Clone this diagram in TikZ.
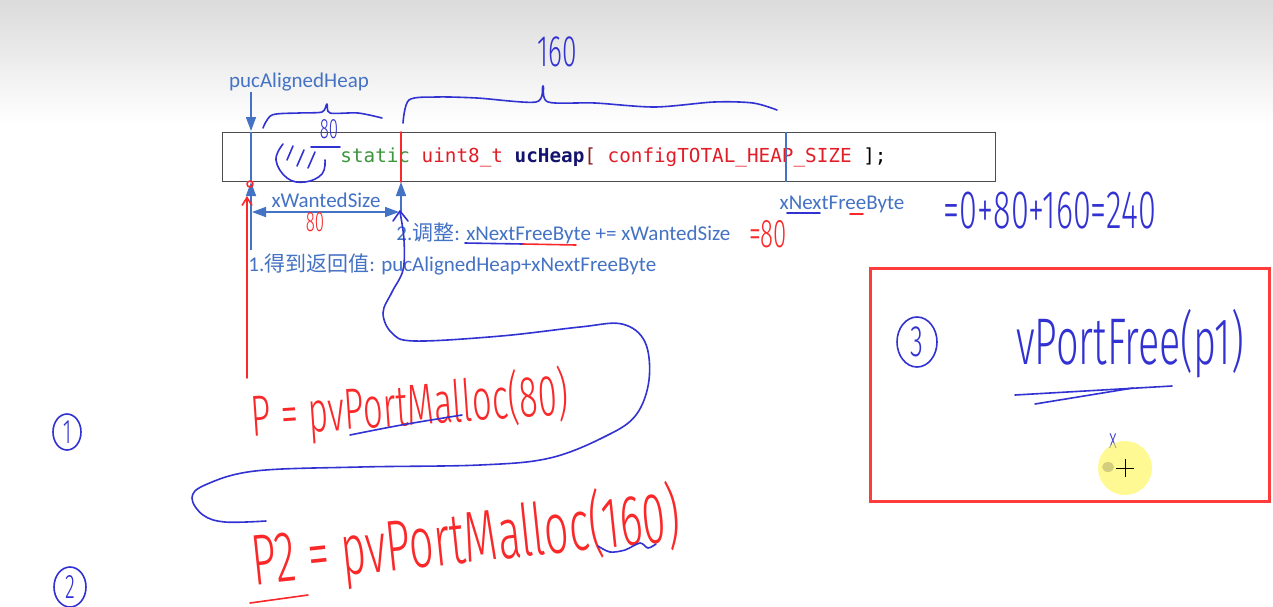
\documentclass[tikz,border=0pt]{standalone}
\usepackage{fontspec}
\setmainfont{Carlito}
\setmonofont{DejaVu Sans Mono}
\newfontfamily\cjk{Noto Sans CJK SC}
\IfFontExistsTF{Fira Sans Light}
  {\newfontfamily\handfont[FakeStretch=0.6]{Fira Sans Light}}
  {\newfontfamily\handfont[FakeStretch=0.6]{Liberation Sans}}
\newcommand{\handsize}[1]{\handfont\fontsize{#1}{#1}\selectfont}
\usetikzlibrary{arrows.meta, positioning, shapes.geometric}

\definecolor{annblue}{RGB}{68,114,196}
\definecolor{penblue}{RGB}{50,50,210}
\definecolor{penred}{RGB}{250,40,40}
\definecolor{kwgreen}{RGB}{60,150,60}
\definecolor{typered}{RGB}{225,30,40}
\definecolor{identnavy}{RGB}{20,20,110}
\definecolor{brackred}{RGB}{140,25,25}
\definecolor{boxred}{RGB}{255,60,60}

\tikzset{
  lbl/.style={text=annblue, font=\fontsize{10.5}{12}\selectfont, inner sep=0pt},
  blueline/.style={draw=annblue, line width=0.8pt},
  bluetip/.style={-{Triangle[length=7pt, width=5pt]}},
  penb/.style={draw=penblue, line width=0.8pt, line cap=round, line join=round},
  penr/.style={draw=penred, line width=0.8pt, line cap=round, line join=round},
  circnum/.style={draw=penblue, line width=0.8pt, ellipse, inner sep=0pt,
    minimum width=14pt, minimum height=18pt, text=penblue, font=\handsize{17}},
}

\begin{document}
\begin{tikzpicture}[x=0.5pt, y=-0.5pt]
    \useasboundingbox (0,0) rectangle (1273,606);
    % --- page background ---
    \fill[white] (0,0) rectangle (1273,606);
    \shade[top color=black!14, bottom color=white] (0,0) rectangle (1273,125);

    % --- the heap array ---
    \node[draw=black!70, line width=0.5pt, fill=white, inner sep=0pt, anchor=north west,
          minimum width=386.5pt, minimum height=24.5pt] (heapbox) at (222,132) {};
    \node[anchor=west, inner sep=0pt, font=\ttfamily\fontsize{9.65}{11}\selectfont] (decl) at (340,157)
        {\textcolor{kwgreen}{static} \textcolor{typered}{uint8\_t} \textcolor{identnavy}{\bfseries ucHeap}\textcolor{brackred}{[} \textcolor{typered}{configTOTAL\_HEAP\_SIZE} ];};

    \coordinate (heapStart) at (251,0);
    \coordinate (firstEnd) at (401,0);
    \coordinate (nextFree) at (786,0);

    \draw[blueline] (heapbox.north -| heapStart) -- (heapbox.south -| heapStart);
    \draw[penr] (heapbox.north -| firstEnd) -- (heapbox.south -| firstEnd);
    \draw[blueline] (heapbox.north -| nextFree) -- (heapbox.south -| nextFree);

    % --- pucAlignedHeap pointer ---
    \node[lbl] (puc) at (299,82) {pucAlignedHeap};
    \coordinate (pucTip) at (251,131);
    \draw[blueline, bluetip] (puc.south -| pucTip) -- (pucTip);

    % --- xWantedSize ---
    \coordinate (leftFoot) at (251,250);
    \coordinate (rightFoot) at (401,214);
    \draw[blueline, bluetip] (leftFoot) -- (heapbox.south -| heapStart);
    \draw[blueline, bluetip] (rightFoot) -- (heapbox.south -| firstEnd);
    \coordinate (wantL) at (252,212);
    \coordinate (wantR) at (399,212);
    \draw[blueline, {Triangle[length=7pt, width=5pt]}-{Triangle[length=7pt, width=5pt]}] (wantL) -- (wantR);
    \node[lbl] (wantLbl) at (326,200) {xWantedSize};

    % --- steps ---
    \node[lbl, anchor=west] (step2) at (396,233) {2.{\cjk 调整}: xNextFreeByte += xWantedSize};
    \node[lbl, anchor=west] (step1) at (248,264) {1.{\cjk 得到返回值}: pucAlignedHeap+xNextFreeByte};
    \node[lbl] (nfb) at (842,204) {xNextFreeByte};

    % --- hand notes, top ---
    \node[text=penblue, font=\handsize{22}, inner sep=0pt] (size160) at (557,52) {160};
    \draw[penb] plot[smooth, tension=0.5] coordinates {(403,123) (409,100) (437,97) (477,98) (536,102) (543,86) (548,102) (595,103) (655,107) (714,102) (753,103) (777,110)};
    \draw[penb] plot[smooth, tension=0.5] coordinates {(263,128) (272,115) (299,113) (322,112) (327,104) (330,113) (358,113) (382,118)};
    \node[text=penblue, font=\handsize{14}, inner sep=0pt] (size80) at (329,129) {80};
    \draw[penb] (311,147) -- (340,147);
    \draw[penb] plot[smooth, tension=0.7] coordinates {(283,144) (276,160) (287,178) (305,182) (322,174) (325,160)};
    \draw[penb] (287,160) -- (293,146) (297,166) -- (304,150) (308,168) -- (315,152);
    \draw[penr] (250,184) circle (3);

    % --- hand notes, middle ---
    \node[text=penred, font=\handsize{14}, inner sep=0pt] (red80) at (315,222) {80};
    \node[text=penred, font=\handsize{20}, inner sep=0pt] (eq80) at (768,234) {=80};
    \draw[penb] (465,243) -- (523,244);
    \draw[penr] (523,244) -- (576,245);
    \draw[penb] (787,213) -- (820,213);
    \draw[penr] (850,214) -- (863,214);
    \node[text=penblue, font=\handsize{27}, inner sep=0pt] (sum240) at (1050,211) {=0+80+160=240};

    \coordinate (redFoot) at (247,378);
    \coordinate (redTop) at (247,196);
    \draw[penr, -{Straight Barb[length=4pt, width=5pt]}] (redFoot) -- (redTop);
    \draw[penb] (393,221) -- (400,211) -- (408,221);
    \draw[penb] plot[smooth, tension=0.6] coordinates {(400,212) (404,240) (403,270) (392,292) (383,313) (392,333) (415,341) (501,336) (580,327) (622,324) (645,342) (649,380) (636,415) (606,436) (550,458) (480,465) (360,467) (255,471) (205,485) (192,498) (203,515) (225,522) (266,521)};

    % --- the two mallocs ---
    \node[circnum] (c1) at (67,432) {1};
    \node[circnum, minimum width=16pt, minimum height=20pt] (c2) at (70,587) {2};
    \node[text=penred, font=\handsize{29}, inner sep=0pt, rotate=4] (malloc1) at (410,407) {P = pvPortMalloc(80)};
    \draw[penb] (350,435) .. controls (400,425) .. (462,415);
    \node[text=penred, font=\handsize{36}, inner sep=0pt, rotate=6] (malloc2) at (466,540) {P2 = pvPortMalloc(160)};
    \draw[penr] (250,603) -- (308,595);
    \draw[penb] plot[smooth] coordinates {(598,546) (610,552) (625,550) (640,543) (648,548) (656,544)};

    % --- free ---
    \node[draw=boxred, line width=1.5pt, inner sep=0pt, anchor=north west,
          minimum width=199.5pt, minimum height=116.5pt] (freebox) at (869,267) {};
    \node[circnum, minimum width=20pt, minimum height=25pt, font=\handsize{22}] (c3) at (917,342) {3};
    \node[text=penblue, font=\handsize{33}, inner sep=0pt] (vfree) at (1130,344) {vPortFree(p1)};
    \draw[penb] (1015,395) -- (1172,386);
    \draw[penb] (1035,404) -- (1133,388);
    \node[text=penblue, font=\handsize{14}, inner sep=0pt] (cross) at (1113,441) {x};

    % --- cursor highlight ---
    \fill[yellow!70, opacity=0.6] (1125,468) circle (27);
    \fill[olive!40] (1108,467) ellipse [x radius=6, y radius=5];
    \draw[black, line width=0.4pt] (1116,468) -- (1134,468) (1125,459) -- (1125,477);
\end{tikzpicture}
\end{document}
